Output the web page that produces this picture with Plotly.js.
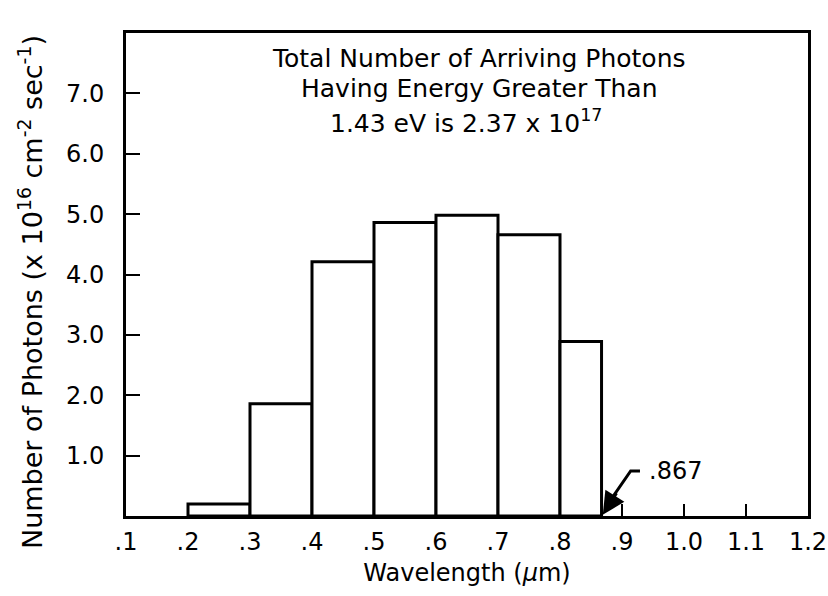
<!DOCTYPE html>
<html>
<head>
<meta charset="utf-8">
<script src="https://cdn.plot.ly/plotly-3.0.1.min.js"></script>
<style>html,body{margin:0;padding:0;background:#fff;}#chart{width:828px;height:596px;}</style>
</head>
<body>
<div id="chart"></div>
<script>
// Data
const binEdges = [0.2, 0.3, 0.4, 0.5, 0.6, 0.7, 0.8, 0.867];
const photonCounts = [0.2, 1.86, 4.21, 4.86, 4.98, 4.66, 2.89];
const xTickVals = [0.1, 0.2, 0.3, 0.4, 0.5, 0.6, 0.7, 0.8, 0.9, 1.0, 1.1, 1.2];
const xTickText = ['.1', '.2', '.3', '.4', '.5', '.6', '.7', '.8', '.9', '1.0', '1.1', '1.2'];
const yTickVals = [1, 2, 3, 4, 5, 6, 7];
const yTickText = ['1.0', '2.0', '3.0', '4.0', '5.0', '6.0', '7.0'];
const cutoffLabel = '.867';
const cutoff = 0.867;

const centers = photonCounts.map((_, i) => (binEdges[i] + binEdges[i + 1]) / 2);
const widths = photonCounts.map((_, i) => binEdges[i + 1] - binEdges[i]);

const FONT = 'DejaVu Sans, sans-serif';

const trace = {
  type: 'bar',
  x: centers,
  y: photonCounts,
  width: widths,
  marker: { color: '#ffffff', line: { color: '#000000', width: 3 } },
  hoverinfo: 'skip'
};

const layout = {
  width: 828, height: 596,
  margin: { l: 126, r: 20, t: 33, b: 80 },
  paper_bgcolor: '#ffffff', plot_bgcolor: '#ffffff',
  showlegend: false,
  font: { family: FONT, size: 24, color: '#000' },
  xaxis: {
    range: [0.1, 1.2], showgrid: false, zeroline: false,
    showline: true, mirror: true, linecolor: '#000', linewidth: 3,
    ticks: 'inside', ticklen: 12, tickwidth: 2, tickcolor: '#000',
    tickvals: xTickVals, ticktext: xTickText,
    tickfont: { family: FONT, size: 24 },
    ticklabelstandoff: 2,
    title: { text: 'Wavelength (<i>μ</i>m)', font: { family: FONT, size: 24 }, standoff: 10 }
  },
  yaxis: {
    range: [0, 8], showgrid: false, zeroline: false,
    showline: true, mirror: true, linecolor: '#000', linewidth: 3,
    ticks: 'inside', ticklen: 14, tickwidth: 2, tickcolor: '#000',
    tickvals: yTickVals, ticktext: yTickText,
    tickfont: { family: FONT, size: 24 },
    ticklabelstandoff: 14
  },
  annotations: [
    { xref: 'paper', yref: 'paper', x: (31 - 126) / 682, y: (516 - 292) / 483, xanchor: 'center', yanchor: 'middle',
      textangle: -90, text: 'Number of Photons (x 10<sup>16</sup> cm<sup>-2</sup> sec<sup>-1</sup>)',
      showarrow: false, font: { family: FONT, size: 27 } },
    { xref: 'paper', yref: 'paper', x: (479 - 126) / 682, y: (516 - 58) / 483, xanchor: 'center', yanchor: 'middle',
      text: 'Total Number of Arriving Photons', showarrow: false, font: { family: FONT, size: 25 } },
    { xref: 'paper', yref: 'paper', x: (479 - 126) / 682, y: (516 - 88) / 483, xanchor: 'center', yanchor: 'middle',
      text: 'Having Energy Greater Than', showarrow: false, font: { family: FONT, size: 25 } },
    { xref: 'paper', yref: 'paper', x: (466 - 126) / 682, y: (516 - 121) / 483, xanchor: 'center', yanchor: 'middle',
      text: '1.43 eV is 2.37 x 10<sup>17</sup>', showarrow: false, font: { family: FONT, size: 25 } },
    { xref: 'x', yref: 'y', x: 0.987, y: 0.74, xanchor: 'center', yanchor: 'middle',
      text: cutoffLabel, showarrow: false, font: { family: FONT, size: 24 } },
    { xref: 'x', yref: 'y', x: cutoff + 0.002, y: 0.02, axref: 'pixel', ayref: 'pixel', ax: 14, ay: -22,
      text: '', showarrow: true, arrowhead: 2, arrowsize: 1.5, arrowwidth: 3, arrowcolor: '#000',
      font: { size: 1 }, borderpad: 0, standoff: 0, startstandoff: 0 }
  ],
  shapes: [
    { type: 'path', xref: 'x', yref: 'y', path: 'M 0.929 0.745 L 0.914 0.745 L 0.884 0.30',
      line: { color: '#000', width: 3 } }
  ]
};

Plotly.newPlot('chart', [trace], layout, { displayModeBar: false, staticPlot: true });
</script>
</body>
</html>
